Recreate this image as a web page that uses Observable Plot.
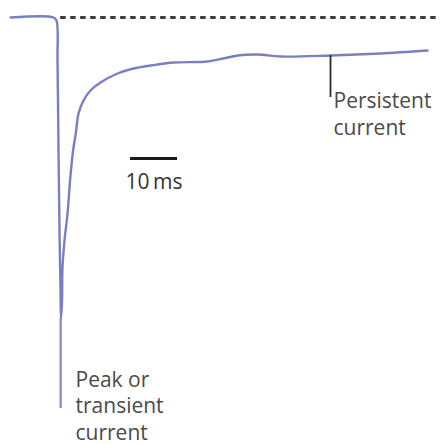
<!DOCTYPE html>
<html>
<head>
<meta charset="utf-8">
<script src="https://cdn.jsdelivr.net/npm/d3@7"></script>
<script src="https://cdn.jsdelivr.net/npm/@observablehq/plot@0.6"></script>
<style>
  html, body { margin: 0; padding: 0; background: #fff; }
  #chart svg { display: block; }
</style>
</head>
<body>
<div id="chart"></div>
<script>
// Sodium current trace: time (ms) and current (nA, inward negative)
const traceTime = [2.13, 11.28, 11.91, 12.13, 12.34, 12.55, 12.77, 12.87, 13.09, 13.19, 13.62, 14.26,
  14.89, 15.53, 15.96, 16.6, 17.66, 19.15, 21.28, 24.89, 28.3, 31.91, 33.4, 36.81, 44.04, 47.45,
  50.43, 54.68, 59.57, 70.21, 80.85, 90.85];
const traceCurrent = [0, 0, -0.03, -0.43, -1.33, -2.13, -2.73, -3.01, -2.83, -2.5, -2.23, -1.96,
  -1.58, -1.3, -1.18, -0.96, -0.83, -0.73, -0.65, -0.56, -0.51, -0.48, -0.47, -0.45, -0.44, -0.41,
  -0.38, -0.37, -0.39, -0.38, -0.36, -0.33];

// Zero-current reference level
const baselineSpan = [12.8, 93.6];
const baselineCurrent = 0;

// Annotations
const peakTime = 12.8;
const peakCurrent = -3.01;
const peakLeaderEnd = -3.91;
const peakLabel = "Peak or\ntransient\ncurrent";
const peakLabelPos = {t: 15.96, i: -4.22};

const persistentTime = 70.21;
const persistentCurrent = -0.38;
const persistentTickEnd = -0.80;
const persistentLabel = "Persistent\ncurrent";
const persistentLabelPos = {t: 70.85, i: -1.17};

// 10 ms scale bar
const scaleBarStart = 27.66;
const scaleBarLength = 10;
const scaleBarCurrent = -1.41;
const scaleBarLabel = "10\u2009ms";
const scaleBarLabelCurrent = -1.71;

const trace = traceTime.map((t, k) => ({t, i: traceCurrent[k]}));

const font = "'Open Sans', Lato, sans-serif";

const chart = Plot.plot({
  width: 447,
  height: 444,
  margin: 0,
  x: {domain: [0, 95.1], axis: null},
  y: {domain: [-4.27, 0.17], axis: null},
  style: {background: "#fff", overflow: "visible"},
  marks: [
    // dotted zero line
    Plot.ruleY([baselineCurrent], {
      x1: baselineSpan[0], x2: baselineSpan[1],
      stroke: "#3c3c3c", strokeWidth: 2.8, strokeDasharray: "5.5,4.5"
    }),
    // leader from the peak down to its label
    Plot.ruleX([peakTime], {
      y1: peakCurrent, y2: peakLeaderEnd,
      stroke: "#8489c8", strokeWidth: 2.2
    }),
    // current trace
    Plot.line(trace, {
      x: "t", y: "i",
      stroke: "#7a7fc2", strokeWidth: 2.4, curve: "catmull-rom",
      strokeLinejoin: "round", strokeLinecap: "round"
    }),
    // persistent current tick
    Plot.ruleX([persistentTime], {
      y1: persistentCurrent, y2: persistentTickEnd,
      stroke: "#2a2a2a", strokeWidth: 1.8
    }),
    // scale bar
    Plot.ruleY([scaleBarCurrent], {
      x1: scaleBarStart, x2: scaleBarStart + scaleBarLength,
      stroke: "#1a1a1a", strokeWidth: 2.8
    }),
    Plot.text([scaleBarLabel], {
      x: scaleBarStart + scaleBarLength / 2, y: scaleBarLabelCurrent,
      text: d => d, textAnchor: "middle", lineAnchor: "bottom",
      fontSize: 21, fontWeight: 500, fontFamily: font, fill: "#333"
    }),
    Plot.text([persistentLabel], {
      x: persistentLabelPos.t, y: persistentLabelPos.i,
      text: d => d, textAnchor: "start", lineAnchor: "bottom", lineHeight: 1.27,
      fontSize: 21, fontWeight: 500, fontFamily: font, fill: "#4a4a4a"
    }),
    Plot.text([peakLabel], {
      x: peakLabelPos.t, y: peakLabelPos.i,
      text: d => d, textAnchor: "start", lineAnchor: "bottom", lineHeight: 1.24,
      fontSize: 21, fontWeight: 500, fontFamily: font, fill: "#4a4a4a"
    })
  ]
});

document.getElementById("chart").appendChild(chart);
</script>
</body>
</html>
